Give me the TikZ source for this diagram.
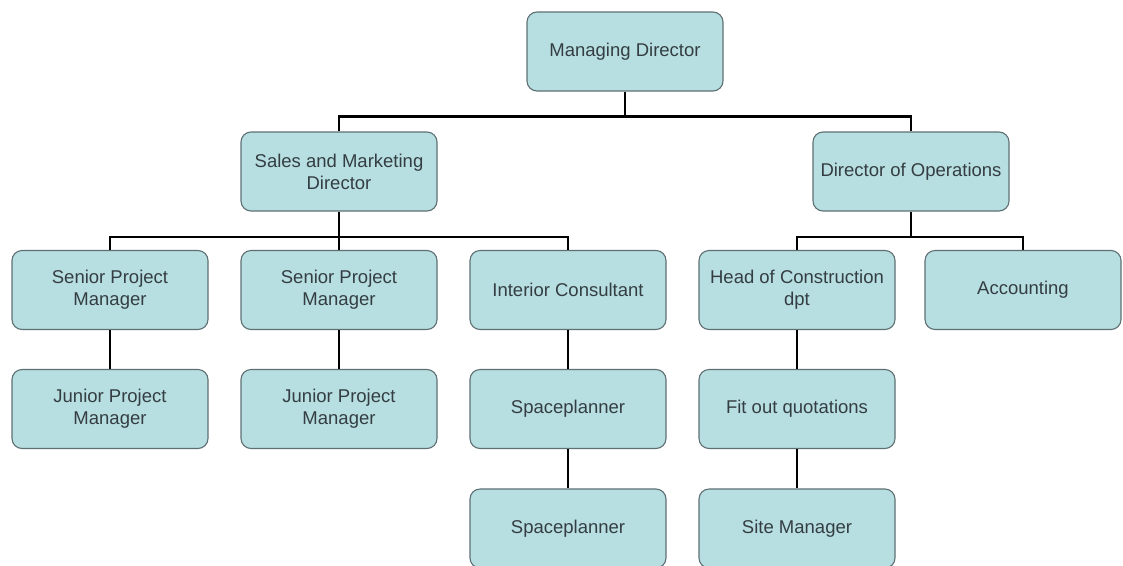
\documentclass[tikz,border=0pt]{standalone}
\usepackage{fontspec}
\setmainfont{Liberation Sans}
\definecolor{boxfill}{RGB}{183,222,225}
\definecolor{boxline}{RGB}{95,112,115}
\definecolor{boxtext}{RGB}{52,62,66}
\begin{document}
\begin{tikzpicture}[x=1pt,y=-1pt,
  unit/.style={draw=boxline, line width=1.1pt, fill=boxfill, rounded corners=10pt,
    minimum width=196pt, minimum height=79pt, align=center, text=boxtext,
    font=\fontsize{18.5}{22}\selectfont, inner sep=2pt},
  conn/.style={draw=black, line width=2.8pt}]
\useasboundingbox (0,0) rectangle (1123,565);
\fill[white] (0,0) rectangle (1123,565);

% top level
\node[unit] (md) at (625,51.5) {Managing Director};

% directors
\node[unit] (smd) at (339,171.5) {Sales and Marketing\\Director};
\node[unit] (dops) at (911,171.5) {Director of Operations};

% third row
\node[unit] (spm1) at (110,290) {Senior Project\\Manager};
\node[unit] (spm2) at (339,290) {Senior Project\\Manager};
\node[unit] (ic) at (568,290) {Interior Consultant};
\node[unit] (hoc) at (797,290) {Head of Construction\\dpt};
\node[unit] (acc) at (1023,290) {Accounting};

% fourth row
\node[unit] (jpm1) at (110,409) {Junior Project\\Manager};
\node[unit] (jpm2) at (339,409) {Junior Project\\Manager};
\node[unit] (sp1) at (568,409) {Spaceplanner};
\node[unit] (fq) at (797,409) {Fit out quotations};

% fifth row
\node[unit] (sp2) at (568,528.5) {Spaceplanner};
\node[unit] (sm) at (797,528.5) {Site Manager};

% elbow connectors between levels
\draw[conn] (smd.north) -- ++(0,-15) -| (md.south);
\draw[conn] (dops.north) -- ++(0,-15) -| (md.south);
\draw[conn] (spm1.north) -- ++(0,-13) -| (smd.south);
\draw[conn] (spm2.north) -- ++(0,-13) -| (smd.south);
\draw[conn] (ic.north) -- ++(0,-13) -| (smd.south);
\draw[conn] (hoc.north) -- ++(0,-13) -| (dops.south);
\draw[conn] (acc.north) -- ++(0,-13) -| (dops.south);

% straight reporting lines
\draw[conn] (spm1) -- (jpm1);
\draw[conn] (spm2) -- (jpm2);
\draw[conn] (ic) -- (sp1);
\draw[conn] (sp1) -- (sp2);
\draw[conn] (hoc) -- (fq);
\draw[conn] (fq) -- (sm);
\end{tikzpicture}
\end{document}
